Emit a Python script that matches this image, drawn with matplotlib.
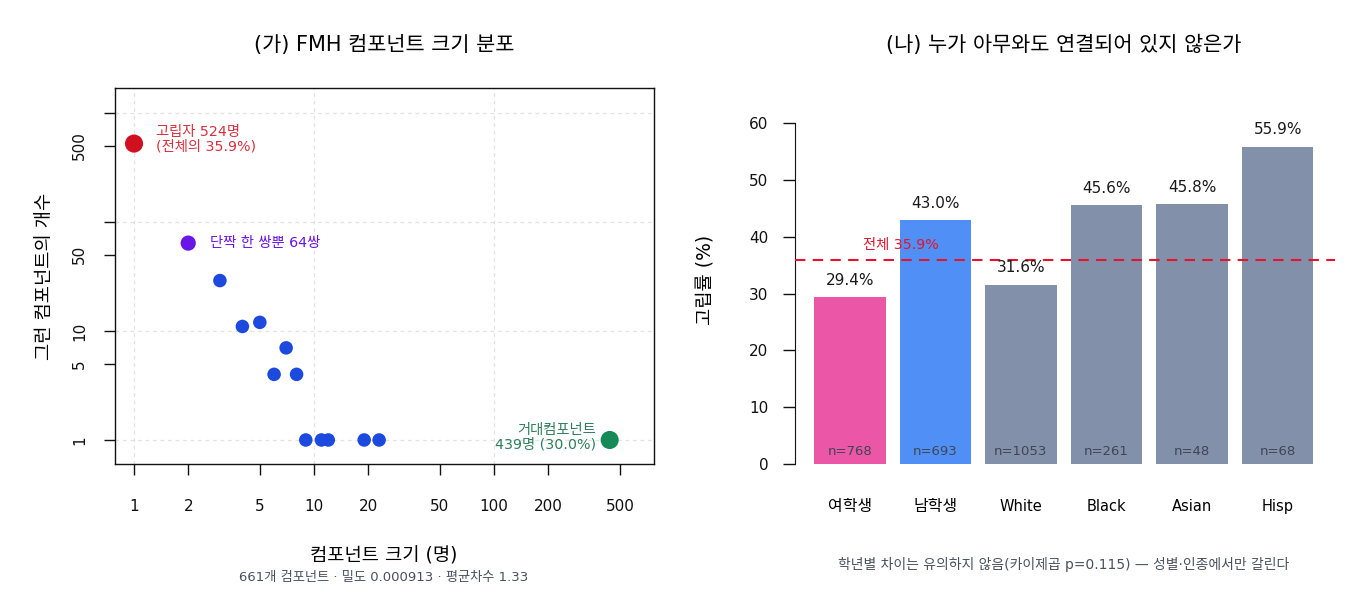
import matplotlib
matplotlib.use("Agg")
import matplotlib.pyplot as plt
from matplotlib.ticker import FixedLocator, NullLocator

# Latin in DejaVu (wide, like the reference), Hangul falls back to Noto CJK
plt.rcParams['font.family'] = ['DejaVu Sans', 'Noto Sans CJK KR']
plt.rcParams['axes.unicode_minus'] = False

# (가) component size distribution
sizes = [1, 2, 3, 4, 5, 6, 7, 8, 9, 11, 12, 19, 23, 439]
counts = [524, 64, 29, 11, 12, 4, 7, 4, 1, 1, 1, 1, 1, 1]
n_components = 661
density = 0.000913
mean_degree = 1.33

# (나) isolation rate by group
groups = ['여학생', '남학생', 'White', 'Black', 'Asian', 'Hisp']
iso_rate = [29.4, 43.0, 31.6, 45.6, 45.8, 55.9]
group_n = [768, 693, 1053, 261, 48, 68]
overall_rate = 35.9
chi_p = 0.115

RED = '#d0101e'
PURPLE = '#6a14e8'
BLUE = '#1d4ade'
GREEN = '#168a58'
bar_colors = ['#ec56a6', '#5090f6', '#8290aa', '#8290aa', '#8290aa', '#8290aa']

fig = plt.figure(figsize=(13.6, 6), dpi=100)
W, H = 1360, 600


def box(x0, y0, x1, y1):
    return [x0 / W, 1 - y1 / H, (x1 - x0) / W, (y1 - y0) / H]


# ---- left panel ----
ax1 = fig.add_axes(box(115, 88, 654, 464))
ax1.set_xscale('log')
ax1.set_yscale('log')
ax1.set_xlim(0.784, 774)
ax1.set_ylim(0.602, 1695)

for xg in [1, 10, 100]:
    ax1.axvline(xg, color='#e2e2e2', lw=0.9, ls=(0, (3, 3)), zorder=0)
for yg in [1, 10, 100, 1000]:
    ax1.axhline(yg, color='#e2e2e2', lw=0.9, ls=(0, (3, 3)), zorder=0)

pt_colors = []
pt_sizes = []
for s in sizes:
    if s == 1:
        pt_colors.append(RED); pt_sizes.append(170)
    elif s == 2:
        pt_colors.append(PURPLE); pt_sizes.append(120)
    elif s == max(sizes):
        pt_colors.append(GREEN); pt_sizes.append(170)
    else:
        pt_colors.append(BLUE); pt_sizes.append(95)
ax1.scatter(sizes, counts, c=pt_colors, s=pt_sizes, linewidths=0, zorder=3)

xt = [1, 2, 5, 10, 20, 50, 100, 200, 500]
ax1.xaxis.set_major_locator(FixedLocator(xt))
ax1.xaxis.set_minor_locator(NullLocator())
ax1.set_xticklabels([str(v) for v in xt])
yt = [1, 5, 10, 50, 100, 500, 1000]
ax1.yaxis.set_major_locator(FixedLocator(yt))
ax1.yaxis.set_minor_locator(NullLocator())
ax1.set_yticklabels(['1', '5', '10', '50', '', '500', ''], rotation=90, va='center')
ax1.tick_params(axis='x', length=8, width=1, pad=17, labelsize=11, colors='#111111')
ax1.tick_params(axis='y', length=8, width=1, pad=12, labelsize=11, colors='#111111')
for sp in ax1.spines.values():
    sp.set_linewidth(1)
    sp.set_color('#111111')

ax1.annotate(f'고립자 {counts[0]}명\n(전체의 {overall_rate:.1f}%)', (sizes[0], counts[0]),
             xytext=(16, 3), textcoords='offset points', ha='left', va='center',
             fontsize=10.3, color='#d8303e', linespacing=1.1)
ax1.annotate(f'단짝 한 쌍뿐 {counts[1]}쌍', (sizes[1], counts[1]),
             xytext=(16, 0), textcoords='offset points', ha='left', va='center',
             fontsize=10.3, color=PURPLE)
ax1.annotate(f'거대컴포넌트\n{sizes[-1]}명 ({sizes[-1] / sum(group_n[:2]) * 100:.1f}%)',
             (sizes[-1], counts[-1]), xytext=(-10, 2), textcoords='offset points',
             ha='right', va='center', multialignment='right',
             fontsize=10.3, color='#2e7d5e', linespacing=1.1)

fig.text(384 / W, 1 - 45 / H, '(가) FMH 컴포넌트 크기 분포', ha='center', va='center', fontsize=15)
fig.text(384 / W, 1 - 556 / H, '컴포넌트 크기 (명)', ha='center', va='center', fontsize=13.5)
fig.text(384 / W, 1 - 578 / H,
         f'{n_components}개 컴포넌트 · 밀도 {density} · 평균차수 {mean_degree}',
         ha='center', va='center', fontsize=9.5, color='#4a5060')
fig.text(45 / W, 1 - 276 / H, '그런 컴포넌트의 개수', ha='center', va='center',
         rotation=90, fontsize=13.5)

# ---- right panel ----
ax2 = fig.add_axes(box(795, 88, 1335, 464))
xpos = list(range(len(groups)))
ax2.bar(xpos, iso_rate, width=0.836, color=bar_colors, zorder=2)
ax2.set_xlim(-0.64, 5.67)
ax2.set_ylim(0, 66.2)
ax2.axhline(overall_rate, color='#e5132b', lw=1.5, ls=(0, (5, 3.5)), zorder=3)
ax2.text(0.6, 38.5, f'전체 {overall_rate:.1f}%', ha='center', va='center',
         fontsize=10.3, color='#e5132b')

for x, v, n in zip(xpos, iso_rate, group_n):
    ax2.annotate(f'{v:.1f}%', (x, v), xytext=(0, 12), textcoords='offset points',
                 ha='center', va='center', fontsize=11, color='#1a1a1a')
    ax2.text(x, 2.2, f'n={n}', ha='center', va='center', fontsize=9.5, color='#3e4656')

ax2.set_yticks(range(0, 61, 10))
ax2.set_xticks(xpos)
ax2.set_xticklabels(groups)
ax2.tick_params(axis='y', length=9, width=1, pad=10, labelsize=11, colors='#111111')
ax2.tick_params(axis='x', length=0, pad=25, labelsize=10.5)
for lbl in ax2.get_xticklabels():
    if not lbl.get_text().isascii():
        lbl.set_fontsize(11.5)
for k in ['top', 'right', 'bottom']:
    ax2.spines[k].set_visible(False)
ax2.spines['left'].set_bounds(0, 60)
ax2.spines['left'].set_color('#111111')

fig.text(1064 / W, 1 - 45 / H, '(나) 누가 아무와도 연결되어 있지 않은가', ha='center', va='center',
         fontsize=15)
fig.text(705 / W, 1 - 280 / H, '고립률 (%)', ha='center', va='center', rotation=90, fontsize=13.5)
fig.text(1064 / W, 1 - 564 / H,
         f'학년별 차이는 유의하지 않음(카이제곱 p={chi_p}) — 성별·인종에서만 갈린다',
         ha='center', va='center', fontsize=10, color='#4a5060')

fig.savefig('out.png', dpi=100)
